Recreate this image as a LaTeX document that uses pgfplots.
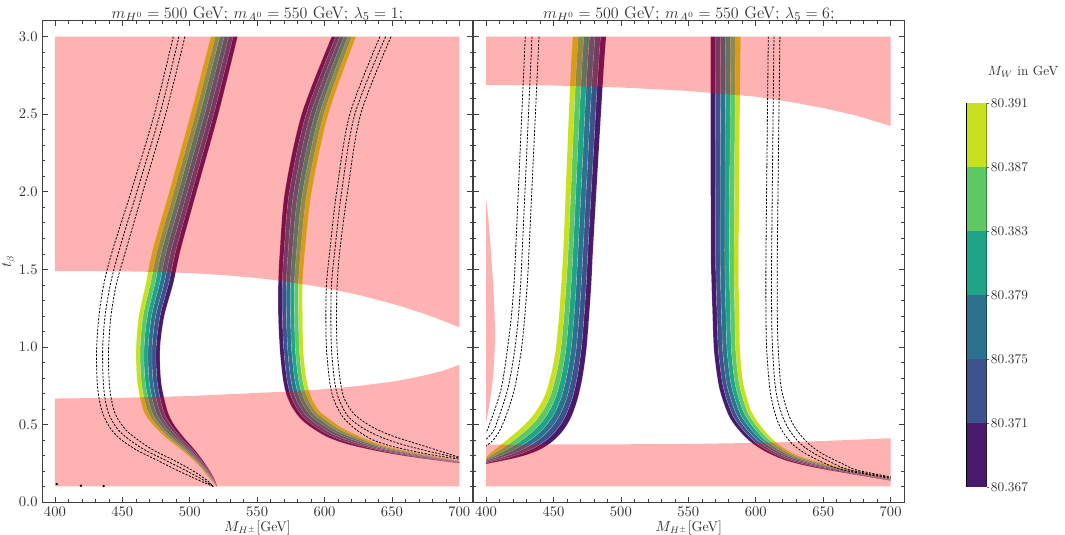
\documentclass[border=0pt]{standalone}
\usepackage{pgfplots}
\pgfplotsset{compat=1.18}
\usepackage{pgfplotstable}
\usepgfplotslibrary{fillbetween}

\definecolor{vA}{HTML}{C8E020}
\definecolor{vB}{HTML}{5EC962}
\definecolor{vC}{HTML}{20A486}
\definecolor{vD}{HTML}{2C728E}
\definecolor{vE}{HTML}{3B528B}
\definecolor{vF}{HTML}{481A6C}
\definecolor{txt}{HTML}{333333}

% band edges: column pair 0 = 80.391 side, pair 6 = 80.367 side
\pgfplotstableread{
x0 y0 x1 y1 x2 y2 x3 y3 x4 y4 x5 y5 x6 y6
515.7 3 519.0 3 522.3 3 525.6 3 528.9 3 532.2 3 535.5 3
500.7 2.5 504.1 2.5 507.5 2.5 511.0 2.5 514.4 2.5 517.8 2.5 521.2 2.5
484.8 2 488.2 2 491.6 2 495.0 2 498.3 2 501.7 2 505.1 2
472.5 1.625 476.0 1.625 479.4 1.625 482.9 1.625 486.3 1.625 489.8 1.625 493.2 1.625
467.5 1.41 470.9 1.41 474.3 1.41 477.7 1.41 481.0 1.41 484.4 1.41 487.8 1.41
462.2 1.195 465.3 1.195 468.5 1.195 471.6 1.195 474.7 1.195 477.9 1.195 481.0 1.195
460.2 0.98 463.2 0.98 466.1 0.98 469.1 0.98 472.0 0.98 475.0 0.98 477.9 0.98
461.2 0.765 464.2 0.765 467.1 0.765 470.1 0.765 473.0 0.765 476.0 0.765 478.9 0.765
465.5 0.593 468.5 0.593 471.4 0.593 474.4 0.593 477.4 0.593 480.3 0.593 483.3 0.593
471.7 0.507 474.4 0.507 477.1 0.507 479.8 0.507 482.4 0.507 485.1 0.507 487.8 0.507
481.6 0.421 483.9 0.421 486.1 0.421 488.4 0.421 490.7 0.421 492.9 0.421 495.2 0.421
494.0 0.335 495.7 0.335 497.3 0.335 499.0 0.335 500.6 0.335 502.3 0.335 503.9 0.335
505.1 0.249 506.1 0.249 507.2 0.249 508.2 0.249 509.2 0.249 510.3 0.249 511.3 0.249
513.7 0.163 514.3 0.163 515.0 0.163 515.6 0.163 516.2 0.163 516.9 0.163 517.5 0.163
520.0 0.1 520.1 0.1 520.1 0.1 520.2 0.1 520.2 0.1 520.3 0.1 520.3 0.1
}\bandLa

\pgfplotstableread{
x0 y0 x1 y1 x2 y2 x3 y3 x4 y4 x5 y5 x6 y6
623.3 3 620.3 3 617.3 3 614.3 3 611.3 3 608.3 3 605.3 3
602.8 2.5 599.5 2.5 596.2 2.5 592.9 2.5 589.6 2.5 586.3 2.5 583.0 2.5
590.4 2 587.1 2 583.8 2 580.5 2 577.2 2 573.9 2 570.6 2
585.5 1.625 582.4 1.625 579.3 1.625 576.2 1.625 573.1 1.625 570.0 1.625 566.9 1.625
583.7 1.41 580.7 1.41 577.7 1.41 574.7 1.41 571.7 1.41 568.7 1.41 565.7 1.41
583.7 1.195 580.7 1.195 577.7 1.195 574.7 1.195 571.7 1.195 568.7 1.195 565.7 1.195
584.2 0.98 581.3 0.98 578.4 0.98 575.6 0.98 572.7 0.98 569.8 0.98 566.9 0.98
586.2 0.808 583.3 0.808 580.4 0.808 577.6 0.808 574.7 0.808 571.8 0.808 568.9 0.808
588.7 0.712 585.8 0.710 582.9 0.708 580.1 0.707 577.2 0.705 574.3 0.703 571.4 0.701
591.6 0.647 588.9 0.642 586.3 0.636 583.6 0.631 580.9 0.626 578.3 0.620 575.6 0.615
596.6 0.582 594.1 0.575 591.7 0.568 589.2 0.561 586.7 0.554 584.3 0.547 581.8 0.540
602.8 0.540 600.5 0.531 598.3 0.522 596.0 0.513 593.7 0.504 591.5 0.495 589.2 0.486
611.4 0.486 609.8 0.475 608.1 0.464 606.5 0.454 604.8 0.443 603.2 0.432 601.5 0.421
623.8 0.432 622.6 0.422 621.3 0.413 620.1 0.403 618.9 0.393 617.6 0.384 616.4 0.374
643.6 0.365 642.8 0.359 641.9 0.353 641.1 0.347 640.3 0.341 639.4 0.335 638.6 0.329
665.8 0.322 665.4 0.317 665.0 0.312 664.6 0.307 664.2 0.302 663.8 0.297 663.4 0.292
700 0.268 700 0.265 700 0.262 700 0.259 700 0.256 700 0.253 700 0.250
}\bandLb

\pgfplotstableread{
x0 y0 x1 y1 x2 y2 x3 y3 x4 y4 x5 y5 x6 y6
464.3 3 468.4 3 472.5 3 476.7 3 480.8 3 484.9 3 489.0 3
462.3 2.689 466.3 2.689 470.4 2.689 474.4 2.689 478.4 2.689 482.5 2.689 486.5 2.689
459.8 2.162 463.7 2.162 467.5 2.162 471.4 2.162 475.2 2.162 479.1 2.162 482.9 2.162
457.3 1.625 461.0 1.625 464.6 1.625 468.3 1.625 472.0 1.625 475.6 1.625 479.3 1.625
455.8 1.41 459.5 1.41 463.2 1.41 467.0 1.41 470.7 1.41 474.4 1.41 478.1 1.41
454.1 1.195 457.8 1.195 461.5 1.195 465.3 1.195 469.0 1.195 472.7 1.195 476.4 1.195
451.6 0.98 455.4 0.98 459.2 0.98 463.0 0.98 466.8 0.98 470.6 0.98 474.4 0.98
448.4 0.830 452.2 0.825 456.1 0.819 459.9 0.814 463.7 0.808 467.6 0.803 471.4 0.797
444.2 0.700 448.1 0.693 452.0 0.686 456.0 0.679 459.9 0.671 463.8 0.664 467.7 0.657
439.3 0.615 443.2 0.603 447.1 0.590 451.1 0.578 455.0 0.565 458.9 0.553 462.8 0.540
433.1 0.540 437.0 0.526 440.9 0.511 444.9 0.497 448.8 0.483 452.7 0.468 456.6 0.454
425.7 0.475 429.6 0.461 433.5 0.446 437.5 0.432 441.4 0.418 445.3 0.403 449.2 0.389
418.3 0.421 422.0 0.408 425.7 0.394 429.4 0.381 433.1 0.367 436.8 0.354 440.5 0.340
410.9 0.368 414.2 0.358 417.5 0.347 420.8 0.337 424.0 0.326 427.3 0.316 430.6 0.305
404.7 0.325 407.0 0.317 409.2 0.309 411.5 0.301 413.8 0.293 416.0 0.285 418.3 0.277
400 0.288 400 0.281 400 0.274 400 0.267 400 0.259 400 0.252 400 0.245
}\bandRa

\pgfplotstableread{
x0 y0 x1 y1 x2 y2 x3 y3 x4 y4 x5 y5 x6 y6
588.8 3 585.1 3 581.4 3 577.7 3 574.0 3 570.3 3 566.6 3
587.9 2.3 584.4 2.3 580.8 2.3 577.3 2.3 573.7 2.3 570.2 2.3 566.6 2.3
587.3 1.625 583.9 1.625 580.4 1.625 577.0 1.625 573.6 1.625 570.1 1.625 566.7 1.625
587.3 1.41 584.0 1.41 580.6 1.41 577.3 1.41 573.9 1.41 570.6 1.41 567.2 1.41
587.8 1.195 584.5 1.195 581.2 1.195 577.9 1.195 574.6 1.195 571.3 1.195 568.0 1.195
588.3 0.98 585.1 0.98 581.9 0.98 578.7 0.98 575.4 0.98 572.2 0.98 569.0 0.98
590.3 0.787 587.3 0.783 584.3 0.780 581.3 0.776 578.2 0.772 575.2 0.769 572.2 0.765
593.2 0.679 590.3 0.674 587.4 0.668 584.6 0.663 581.7 0.658 578.8 0.652 575.9 0.647
596.9 0.582 594.2 0.575 591.6 0.568 588.9 0.561 586.2 0.554 583.6 0.547 580.9 0.540
603.1 0.497 600.6 0.490 598.2 0.483 595.7 0.476 593.2 0.468 590.8 0.461 588.3 0.454
610.5 0.421 608.2 0.415 606.0 0.408 603.7 0.402 601.4 0.395 599.2 0.389 596.9 0.382
619.2 0.357 617.4 0.351 615.5 0.345 613.7 0.339 611.8 0.332 610.0 0.326 608.1 0.320
630.3 0.303 629.1 0.297 627.8 0.291 626.6 0.285 625.4 0.278 624.1 0.272 622.9 0.266
647.6 0.256 646.8 0.251 645.9 0.245 645.1 0.240 644.3 0.235 643.4 0.229 642.6 0.224
669.8 0.211 669.4 0.207 669.0 0.202 668.6 0.198 668.2 0.194 667.8 0.189 667.4 0.185
700 0.150 700 0.148 700 0.146 700 0.144 700 0.142 700 0.140 700 0.138
}\bandRb

\pgfplotsset{
  panel/.style={scale only axis, height=361pt, ymin=0, ymax=3.103,
    xtick={400,450,500,550,600,650,700}, minor x tick num=4,
    ytick={0,0.5,1,1.5,2,2.5,3}, minor y tick num=4,
    tick align=inside, major tick length=4pt, minor tick length=2.2pt,
    axis line style={black!75, line width=0.6pt},
    tick style={black!75, line width=0.45pt},
    every tick label/.append style={txt, font=\fontsize{10.5}{12}\selectfont},
    label style={txt, font=\fontsize{10.5}{12}\selectfont},
    title style={txt, font=\fontsize{12.5}{14}\selectfont, anchor=base, yshift=-4.2pt},
    yticklabel style={/pgf/number format/.cd, fixed, fixed zerofill, precision=1},
    xlabel={$M_{H^\pm}$[GeV]}, xlabel style={yshift=3pt}, ylabel shift=-4pt},
  bd/.style={draw=none, smooth},
  strip/.style={draw=white, draw opacity=0.35, line width=0.25pt},
  pinkfill/.style={draw=none, fill=red, fill opacity=0.3},
  dsh/.style={black, line width=0.6pt, dash pattern=on 1.6pt off 1.1pt, smooth},
}

\newcommand{\band}[2]{%
  \addplot[bd, name path=#2a] table[x=x0,y=y0]{#1};
  \addplot[bd, name path=#2b] table[x=x1,y=y1]{#1};
  \addplot[bd, name path=#2c] table[x=x2,y=y2]{#1};
  \addplot[bd, name path=#2d] table[x=x3,y=y3]{#1};
  \addplot[bd, name path=#2e] table[x=x4,y=y4]{#1};
  \addplot[bd, name path=#2f] table[x=x5,y=y5]{#1};
  \addplot[bd, name path=#2g] table[x=x6,y=y6]{#1};
  \addplot[fill=vA, strip] fill between[of=#2a and #2b];
  \addplot[fill=vB, strip] fill between[of=#2b and #2c];
  \addplot[fill=vC, strip] fill between[of=#2c and #2d];
  \addplot[fill=vD, strip] fill between[of=#2d and #2e];
  \addplot[fill=vE, strip] fill between[of=#2e and #2f];
  \addplot[fill=vF, strip] fill between[of=#2f and #2g];
}

\begin{document}
\begin{tikzpicture}[font=\fontsize{10.5}{12}\selectfont]

% lambda_5 = 1
\begin{axis}[panel, at={(31.7pt,24.75pt)}, anchor=south west, width=322.8pt,
  xmin=390.6, xmax=709.9, ylabel={$t_\beta$},
  title={$m_{H^0} = 500$ GeV; $m_{A^0} = 550$ GeV; $\lambda_5 = 1$;}]
\band{\bandLa}{la}
\band{\bandLb}{lb}
\addplot[pinkfill] coordinates {(400,3) (700,3) (700,1.126) (687.5,1.170) (675,1.210) (662.5,1.246) (650,1.279) (625,1.336) (600,1.381) (575,1.417) (550,1.444) (525,1.463) (500,1.476) (475,1.483) (450,1.487) (400,1.489)};
\addplot[pinkfill] coordinates {(400,0.1) (700,0.1) (700,0.884) (687.5,0.845) (675,0.818) (662.5,0.795) (650,0.775) (625,0.748) (600,0.727) (575,0.713) (550,0.703) (500,0.683) (450,0.672) (400,0.667)};
\addplot[dsh] coordinates {(487.8,3) (473.7,2.5) (456.5,2) (442.8,1.625) (436.4,1.41) (432.6,1.195) (430.9,0.98) (431.4,0.765) (433.4,0.636) (436.4,0.55) (442.0,0.464) (449.5,0.399) (460.6,0.335) (475.4,0.271) (490.3,0.206) (506.3,0.142) (517.5,0.1)};
\addplot[dsh] coordinates {(492.0,3) (477.9,2.5) (460.8,2) (447.7,1.625) (441.3,1.41) (437.1,1.195) (435.4,0.98) (435.9,0.765) (437.8,0.636) (440.8,0.55) (447.0,0.464) (455.6,0.399) (466.8,0.335) (481.6,0.271) (496.4,0.206) (510.0,0.142) (517.5,0.1)};
\addplot[dsh] coordinates {(496.4,3) (482.1,2.5) (465.2,2) (452.7,1.625) (445.7,1.41) (441.5,1.195) (439.8,0.98) (440.3,0.765) (442.5,0.636) (445.7,0.55) (452.7,0.464) (461.8,0.399) (472.9,0.335) (487.8,0.271) (501.4,0.206) (512.5,0.142) (517.5,0.1)};
\addplot[dsh] coordinates {(641.1,3) (618.8,2.5) (609.0,2) (604.0,1.625) (601.5,1.41) (601.0,1.195) (601.5,0.98) (604.0,0.765) (607.0,0.658) (613.4,0.55) (623.8,0.464) (636.2,0.399) (651.0,0.357) (675.7,0.31) (700,0.276)};
\addplot[dsh] coordinates {(645.3,3) (622.5,2.5) (612.7,2) (607.7,1.625) (605.2,1.41) (604.7,1.195) (605.2,0.98) (607.7,0.765) (610.9,0.658) (617.6,0.55) (628.7,0.475) (642.3,0.417) (657.2,0.372) (678.2,0.325) (700,0.282)};
\addplot[dsh] coordinates {(649.3,3) (626.8,2.5) (617.1,2) (611.4,1.625) (609.4,1.41) (608.9,1.195) (609.4,0.98) (611.9,0.765) (615.1,0.658) (622.6,0.561) (634.9,0.486) (648.5,0.432) (663.4,0.389) (680.7,0.342) (700,0.288)};
\addplot[only marks, mark=*, mark size=0.7pt, black] coordinates {(401.3,0.116) (419.3,0.105) (436.1,0.103)};
\end{axis}

% lambda_5 = 6
\begin{axis}[panel, at={(355.1pt,24.75pt)}, anchor=south west, width=323.1pt,
  xmin=390.7, xmax=710.1, yticklabels={},
  title={$m_{H^0} = 500$ GeV; $m_{A^0} = 550$ GeV; $\lambda_5 = 6$;}]
\band{\bandRa}{ra}
\band{\bandRb}{rb}
\addplot[pinkfill] coordinates {(400,3) (700,3) (700,2.424) (675,2.49) (650,2.54) (625,2.58) (600,2.613) (550,2.65) (500,2.672) (450,2.685) (400,2.689)};
\addplot[pinkfill] coordinates {(400,0.1) (700,0.1) (700,0.411) (650,0.393) (600,0.381) (550,0.374) (500,0.372) (450,0.371) (400,0.37)};
\addplot[pinkfill, smooth] coordinates {(400,1.958) (402,1.8) (403.5,1.625) (405.2,1.41) (406.4,1.195) (406.4,0.98) (404.7,0.765) (402.2,0.615) (400,0.507)};
\addplot[dsh] coordinates {(429.1,3) (422.0,1.625) (420.8,1.41) (418.8,1.195) (415.8,0.98) (412.1,0.765) (408.9,0.658) (404.7,0.55) (401.0,0.464) (400,0.447)};
\addplot[dsh] coordinates {(434.1,3) (426.9,1.625) (425.7,1.41) (424.0,1.195) (421.3,0.98) (417.1,0.765) (413.8,0.658) (409.6,0.55) (405.9,0.464) (402.5,0.425) (400,0.404)};
\addplot[dsh] coordinates {(439.3,3) (431.9,1.625) (430.6,1.41) (428.7,1.195) (426.2,0.98) (422.0,0.765) (418.8,0.658) (414.6,0.55) (410.4,0.464) (405.4,0.4) (400,0.361)};
\addplot[dsh] coordinates {(609.3,3) (607.6,1.625) (607.6,1.195) (608.1,0.98) (610.0,0.765) (611.8,0.658) (615.0,0.55) (619.2,0.464) (626.6,0.378) (636.5,0.314) (651.3,0.249) (664.9,0.206) (700,0.152)};
\addplot[dsh] coordinates {(613.5,3) (611.8,1.625) (611.8,1.195) (612.5,0.98) (614.2,0.765) (616.2,0.658) (619.9,0.55) (624.9,0.464) (632.8,0.378) (643.1,0.314) (657.5,0.249) (669.8,0.206) (700,0.157)};
\addplot[dsh] coordinates {(617.9,3) (616.0,1.625) (616.0,1.195) (616.7,0.98) (618.4,0.765) (620.9,0.658) (624.9,0.55) (630.3,0.464) (638.9,0.378) (648.8,0.314) (663.7,0.249) (674.8,0.206) (700,0.162)};
\end{axis}

% colour bar
\begin{axis}[scale only axis, at={(725pt,36.2pt)}, anchor=south west,
  width=15pt, height=287.5pt, xmin=0, xmax=1, ymin=0, ymax=6,
  xtick=\empty, ytick={0,1,2,3,4,5,6},
  yticklabels={80.367,80.371,80.375,80.379,80.383,80.387,80.391},
  ytick pos=right, yticklabel pos=right, tick align=outside,
  major tick length=2pt, tick style={black!60},
  axis line style={black, line width=0.6pt},
  yticklabel style={txt, font=\fontsize{10}{12}\selectfont, inner sep=1pt}]
\addplot[fill=vF, draw=none] coordinates {(0,0) (1,0) (1,1) (0,1)};
\addplot[fill=vE, draw=none] coordinates {(0,1) (1,1) (1,2) (0,2)};
\addplot[fill=vD, draw=none] coordinates {(0,2) (1,2) (1,3) (0,3)};
\addplot[fill=vC, draw=none] coordinates {(0,3) (1,3) (1,4) (0,4)};
\addplot[fill=vB, draw=none] coordinates {(0,4) (1,4) (1,5) (0,5)};
\addplot[fill=vA, draw=none] coordinates {(0,5) (1,5) (1,6) (0,6)};
\end{axis}
\node[txt, font=\fontsize{10}{12}\selectfont] at (767.3pt,347.5pt) {$M_W$ in GeV};

\pgfresetboundingbox
\path[use as bounding box] (0,0) rectangle (798.75pt,401.25pt);
\end{tikzpicture}
\end{document}
